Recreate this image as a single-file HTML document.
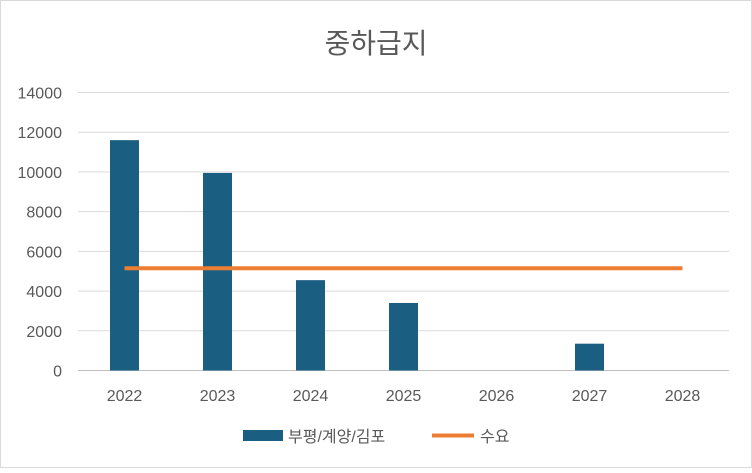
<!DOCTYPE html>
<html><head><meta charset="utf-8"><style>
body{margin:0;background:#fff;}
svg text{font-family:"Liberation Sans","Noto Sans CJK KR",sans-serif;}
</style></head><body>
<svg id="chart" width="752" height="468" xmlns="http://www.w3.org/2000/svg">
<rect x="0.5" y="0.5" width="751" height="467" fill="#fff" stroke="#d9d9d9"/>
<text x="376" y="53" text-anchor="middle" font-size="28" fill="#595959">중하급지</text>
<g id="grid"></g><g id="bars"></g><g id="line"></g><g id="xlabels"></g><g id="ylabels"></g>
<g>
<rect x="243" y="430" width="40" height="11" fill="#1a5e82"/>
<text x="288" y="442" font-size="16" fill="#595959">부평/계양/김포</text>
<line x1="432" y1="435.5" x2="474" y2="435.5" stroke="#ed7d31" stroke-width="4"/>
<text x="480" y="442" font-size="16" fill="#595959">수요</text>
</g>
</svg>
<script>
const categories=["2022","2023","2024","2025","2026","2027","2028"];
const supply=[11600,9950,4550,3400,0,1350,0];
const demand=[5150,5150,5150,5150,5150,5150,5150];
const yTicks=[0,2000,4000,6000,8000,10000,12000,14000];
const NS="http://www.w3.org/2000/svg";
const x0=78,x1=729,y0=370.5,y1=92.5,yMax=14000;
const step=(x1-x0)/categories.length;
const xc=i=>x0+step*(i+0.5);
const yv=v=>y0-(v/yMax)*(y0-y1);
function mk(t,a,p){const e=document.createElementNS(NS,t);for(const k in a)e.setAttribute(k,a[k]);p.appendChild(e);return e;}
const g=document.getElementById('grid'),yl=document.getElementById('ylabels');
yTicks.forEach(v=>{
 const l=mk('line',{x1:x0,x2:x1,y1:yv(v),y2:yv(v),stroke:v===0?'#bfbfbf':'#d9d9d9','stroke-width':1},g);
 
 
 const t=mk('text',{x:62,y:yv(v)+6,'text-anchor':'end','font-size':16,fill:'#595959'},yl);
 t.textContent=v;
 
 
});
const b=document.getElementById('bars'),xl=document.getElementById('xlabels');
categories.forEach((c,i)=>{
 const h=y0-yv(supply[i]);
 const r=mk('rect',{x:xc(i)-14.5,y:yv(supply[i]),width:29,height:h,fill:'#1a5e82'},b);
 
 
 const t=mk('text',{x:xc(i),y:401,'text-anchor':'middle','font-size':16,fill:'#595959'},xl);
 t.textContent=c;
 
 
});
const pl=mk('polyline',{points:demand.map((v,i)=>xc(i)+','+yv(v)).join(' '),fill:'none',stroke:'#ed7d31','stroke-width':4},document.getElementById('line'));


</script>
</body></html>
